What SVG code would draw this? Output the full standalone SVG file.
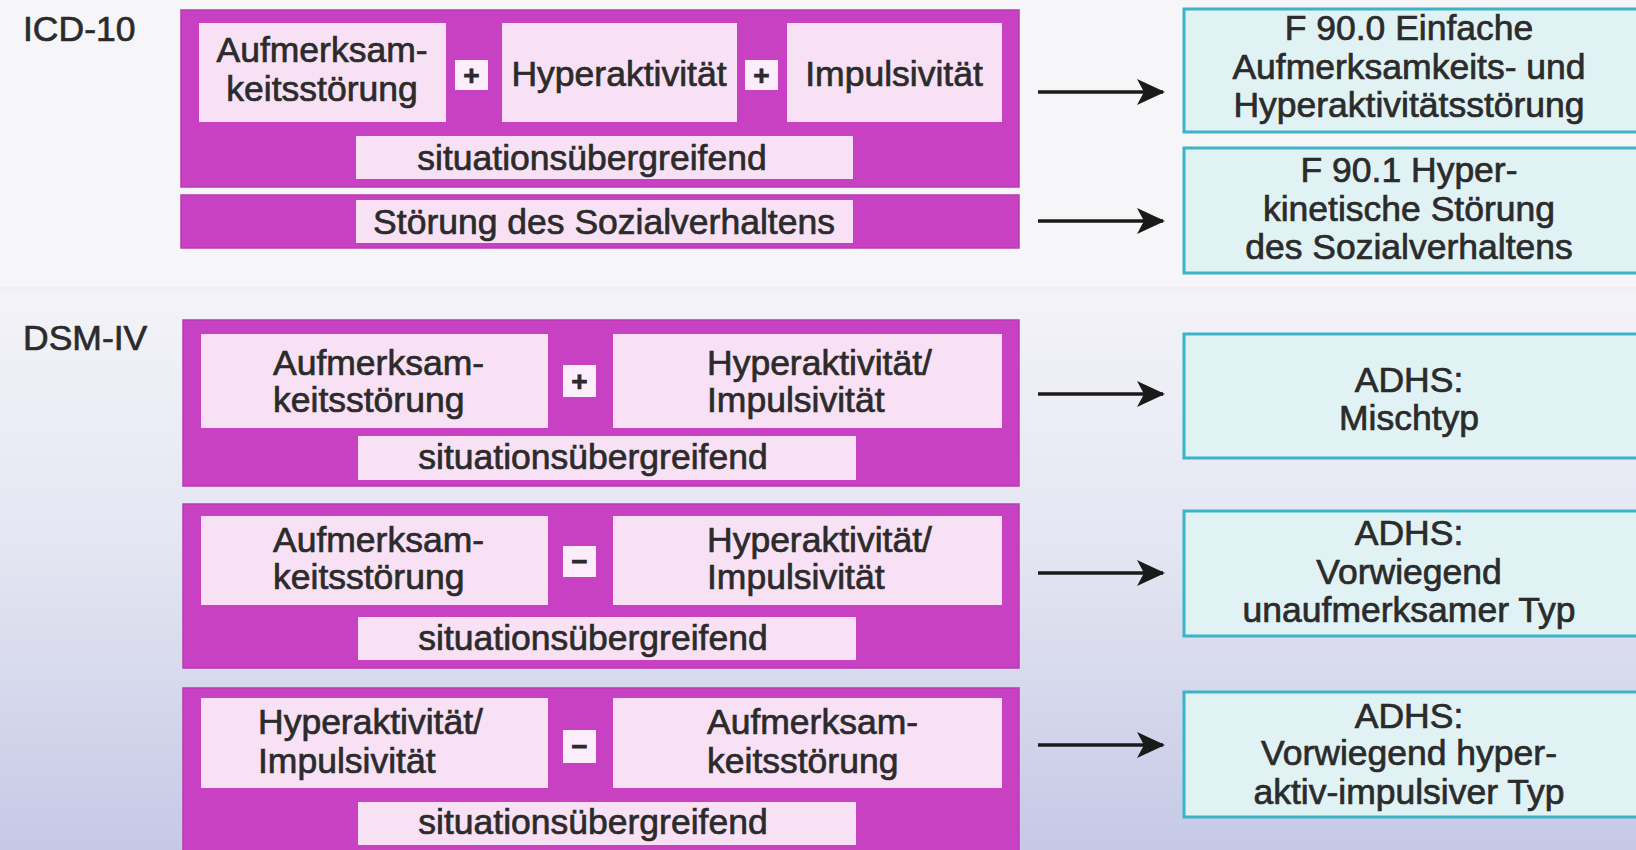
<svg xmlns="http://www.w3.org/2000/svg" width="1636" height="850" viewBox="0 0 1636 850">
<defs>
<linearGradient id="bgDsm" x1="0" y1="0" x2="0" y2="1">
<stop offset="0" stop-color="#f3f3f8"/>
<stop offset="0.45" stop-color="#e4e6f2"/>
<stop offset="1" stop-color="#c6c9e6"/>
</linearGradient>
<marker id="arrow" viewBox="0 0 30 30" refX="26" refY="15" markerWidth="30" markerHeight="30" markerUnits="userSpaceOnUse" orient="auto">
<path d="M0,2 L28,15 L0,28 L7,15 Z" fill="#1a1a1a"/>
</marker>
<style>
.mag{fill:#c941c3;stroke:#b83ab3;stroke-width:1.5}
.pink{fill:#f9e1f5}
.sign{fill:#fbeefa}
.res{fill:#e0f2f4;stroke:#3cb3c6;stroke-width:3}
text{font-family:"Liberation Sans",Arial,Helvetica,sans-serif;font-size:35.5px;fill:#2b2b2b;stroke:#2b2b2b;stroke-width:0.7}
.c{text-anchor:middle}
.sg{font-size:28px;font-weight:bold;text-anchor:middle}
.conn{stroke:#1a1a1a;stroke-width:3.5;fill:none}
</style>
</defs>
<rect x="0" y="0" width="1636" height="850" fill="#f6f6f9"/>
<rect x="0" y="292" width="1636" height="558" fill="url(#bgDsm)"/>
<rect x="0" y="287" width="1636" height="6" fill="#f0f1f6"/>

<text x="23" y="41">ICD-10</text>
<text x="23" y="350">DSM-IV</text>

<g id="icd-main">
<rect class="mag" x="181" y="10" width="838" height="177"/>
<rect class="pink" x="199" y="23" width="247" height="99"/>
<rect class="sign" x="455" y="60" width="33" height="30"/>
<rect class="pink" x="502" y="23" width="235" height="99"/>
<rect class="sign" x="745" y="60" width="33" height="30"/>
<rect class="pink" x="787" y="23" width="215" height="99"/>
<rect class="pink" x="356" y="136" width="497" height="43"/>
<text class="c" x="322" y="62">Aufmerksam-</text>
<text class="c" x="322" y="101">keitsstörung</text>
<text class="sg" x="471.5" y="85">+</text>
<text class="c" x="619" y="86">Hyperaktivität</text>
<text class="sg" x="761.5" y="85">+</text>
<text class="c" x="894" y="86">Impulsivität</text>
<text class="c" x="592" y="170">situationsübergreifend</text>
</g>

<g id="icd-social">
<rect class="mag" x="181" y="195" width="838" height="53"/>
<rect class="pink" x="356" y="200" width="497" height="43"/>
<text class="c" x="604" y="234">Störung des Sozialverhaltens</text>
</g>

<g id="dsm-mixed">
<rect class="mag" x="183" y="320" width="836" height="166"/>
<rect class="pink" x="201" y="334" width="347" height="94"/>
<rect class="sign" x="563" y="365" width="33" height="32"/>
<rect class="pink" x="613" y="334" width="389" height="94"/>
<rect class="pink" x="358" y="436" width="498" height="44"/>
<text x="273" y="375">Aufmerksam-</text>
<text x="273" y="412">keitsstörung</text>
<text class="sg" x="579.5" y="391">+</text>
<text x="707" y="375">Hyperaktivität/</text>
<text x="707" y="412">Impulsivität</text>
<text class="c" x="593" y="469">situationsübergreifend</text>
</g>

<g id="dsm-inattentive">
<rect class="mag" x="183" y="504" width="836" height="164"/>
<rect class="pink" x="201" y="516" width="347" height="89"/>
<rect class="sign" x="563" y="546" width="33" height="31"/>
<rect class="pink" x="613" y="516" width="389" height="89"/>
<rect class="pink" x="358" y="617" width="498" height="43"/>
<text x="273" y="552">Aufmerksam-</text>
<text x="273" y="589">keitsstörung</text>
<text class="sg" x="579.5" y="571">−</text>
<text x="707" y="552">Hyperaktivität/</text>
<text x="707" y="589">Impulsivität</text>
<text class="c" x="593" y="650">situationsübergreifend</text>
</g>

<g id="dsm-hyperactive">
<rect class="mag" x="183" y="688" width="836" height="170"/>
<rect class="pink" x="201" y="698" width="347" height="90"/>
<rect class="sign" x="563" y="730" width="33" height="33"/>
<rect class="pink" x="613" y="698" width="389" height="90"/>
<rect class="pink" x="358" y="802" width="498" height="43"/>
<text x="258" y="734">Hyperaktivität/</text>
<text x="258" y="773">Impulsivität</text>
<text class="sg" x="579.5" y="756">−</text>
<text x="707" y="734">Aufmerksam-</text>
<text x="707" y="773">keitsstörung</text>
<text class="c" x="593" y="834">situationsübergreifend</text>
</g>

<g id="res-f900">
<rect class="res" x="1184" y="9" width="460" height="123"/>
<text class="c" x="1409" y="40">F 90.0 Einfache</text>
<text class="c" x="1409" y="79">Aufmerksamkeits- und</text>
<text class="c" x="1409" y="117">Hyperaktivitätsstörung</text>
</g>

<g id="res-f901">
<rect class="res" x="1184" y="148" width="460" height="125"/>
<text class="c" x="1409" y="182">F 90.1 Hyper-</text>
<text class="c" x="1409" y="221">kinetische Störung</text>
<text class="c" x="1409" y="259">des Sozialverhaltens</text>
</g>

<g id="res-misch">
<rect class="res" x="1184" y="334" width="460" height="124"/>
<text class="c" x="1409" y="392">ADHS:</text>
<text class="c" x="1409" y="430">Mischtyp</text>
</g>

<g id="res-unaufm">
<rect class="res" x="1184" y="511" width="460" height="125"/>
<text class="c" x="1409" y="545">ADHS:</text>
<text class="c" x="1409" y="584">Vorwiegend</text>
<text class="c" x="1409" y="622">unaufmerksamer Typ</text>
</g>

<g id="res-hyper">
<rect class="res" x="1184" y="692" width="460" height="125"/>
<text class="c" x="1409" y="728">ADHS:</text>
<text class="c" x="1409" y="765">Vorwiegend hyper-</text>
<text class="c" x="1409" y="804">aktiv-impulsiver Typ</text>
</g>

<g id="connectors">
<line class="conn" x1="1038" y1="92" x2="1163" y2="92" marker-end="url(#arrow)"/>
<line class="conn" x1="1038" y1="221" x2="1163" y2="221" marker-end="url(#arrow)"/>
<line class="conn" x1="1038" y1="394" x2="1163" y2="394" marker-end="url(#arrow)"/>
<line class="conn" x1="1038" y1="573" x2="1163" y2="573" marker-end="url(#arrow)"/>
<line class="conn" x1="1038" y1="745" x2="1163" y2="745" marker-end="url(#arrow)"/>
</g>
</svg>
